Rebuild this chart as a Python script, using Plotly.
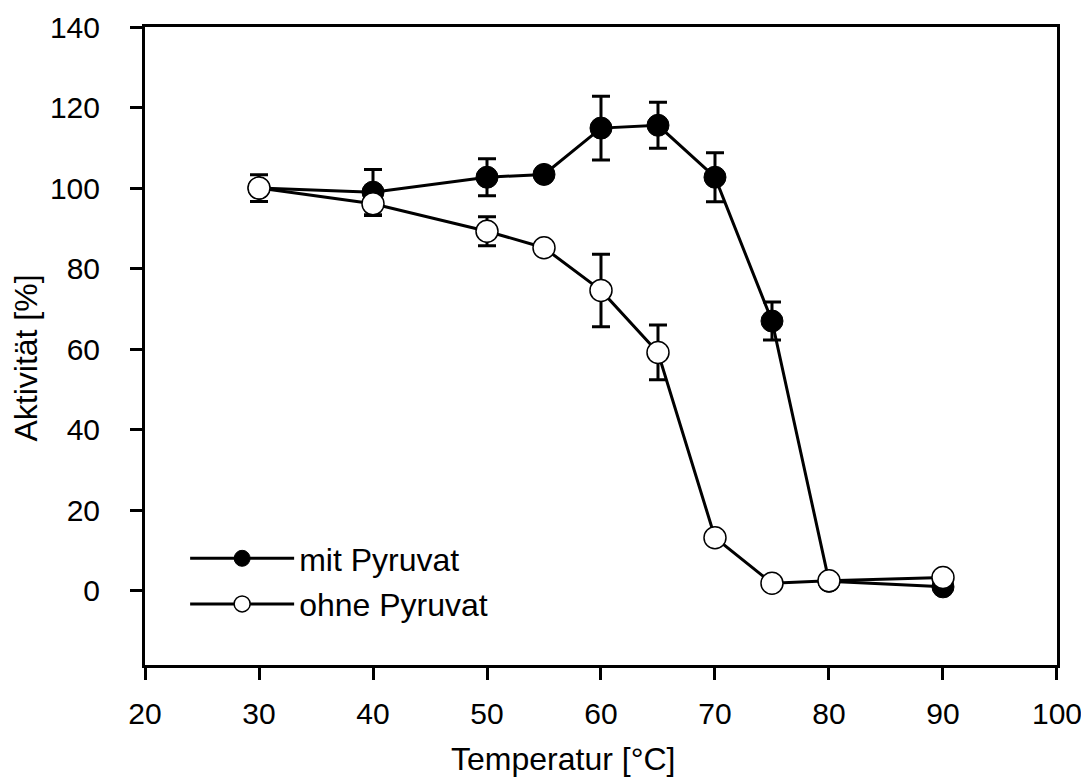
import plotly.graph_objects as go

temperature = [30, 40, 50, 55, 60, 65, 70, 75, 80, 90]

mit_values = [100, 99.0, 102.7, 103.4, 114.9, 115.6, 102.7, 67.0, 2.4, 1.0]
mit_errors = [0, 5.6, 4.6, 0, 7.9, 5.7, 6.1, 4.7, 0, 0]

ohne_values = [100, 96.1, 89.3, 85.2, 74.6, 59.2, 13.2, 1.9, 2.5, 3.3]
ohne_errors = [3.3, 2.9, 3.6, 0, 9.0, 6.8, 0, 0, 0, 0]

x_ticks = [20, 30, 40, 50, 60, 70, 80, 90, 100]
y_ticks = [0, 20, 40, 60, 80, 100, 120, 140]

FONT = "Liberation Sans, Arial, sans-serif"
FS = 30
TFS = 32

fig = go.Figure()

fig.add_trace(go.Scatter(
    x=temperature, y=mit_values, name="mit Pyruvat", mode="lines+markers",
    legendgroup="mit",
    line=dict(color="black", width=3),
    marker=dict(symbol="circle", size=22, color="black", line=dict(color="black", width=1)),
    error_y=dict(type="data", array=mit_errors, visible=True, color="black", thickness=3, width=9),
))
fig.add_trace(go.Scatter(
    x=temperature, y=ohne_values, name="ohne Pyruvat", mode="lines+markers",
    legendgroup="ohne",
    line=dict(color="black", width=3),
    marker=dict(symbol="circle", size=22, color="white", line=dict(color="black", width=1.5)),
    error_y=dict(type="data", array=ohne_errors, visible=True, color="black", thickness=3, width=9),
))

axis_common = dict(
    showline=True, linecolor="black", linewidth=3, mirror=True,
    ticks="outside", ticklen=12, tickwidth=3, tickcolor="black",
    showgrid=False, zeroline=False, automargin=False,
    ticklabeloverflow="allow",
    tickfont=dict(family=FONT, size=FS, color="black"),
)

fig.update_xaxes(range=[20, 100.001], tickvals=x_ticks, ticklabelstandoff=8, **axis_common)
fig.update_yaxes(range=[-18.4, 140.001], tickvals=y_ticks, ticklabelstandoff=24, **axis_common)

fig.add_annotation(
    text="Temperatur [°C]", xref="paper", yref="paper",
    x=0.458, y=-0.148, xanchor="center", yanchor="middle", showarrow=False,
    font=dict(family=FONT, size=TFS, color="black"),
)
fig.add_annotation(
    text="Aktivität [%]", xref="paper", yref="paper", textangle=-90,
    x=-0.130, y=0.481, xanchor="center", yanchor="middle", showarrow=False,
    font=dict(family=FONT, size=TFS, color="black"),
)

fig.update_layout(
    width=1081, height=778,
    margin=dict(l=145, r=24, t=27, b=113, autoexpand=False),
    paper_bgcolor="white", plot_bgcolor="white",
    showlegend=True,
    legend=dict(
        x=0.044, y=0.21, xanchor="left", yanchor="top",
        font=dict(family=FONT, size=TFS, color="black"),
        bgcolor="rgba(0,0,0,0)", itemsizing="trace", tracegroupgap=1,
        itemwidth=104,
    ),
)

fig.write_html(
    "out.html",
    config={"displayModeBar": False},
    post_script="document.body.style.margin='0';document.body.style.overflow='hidden';",
)
